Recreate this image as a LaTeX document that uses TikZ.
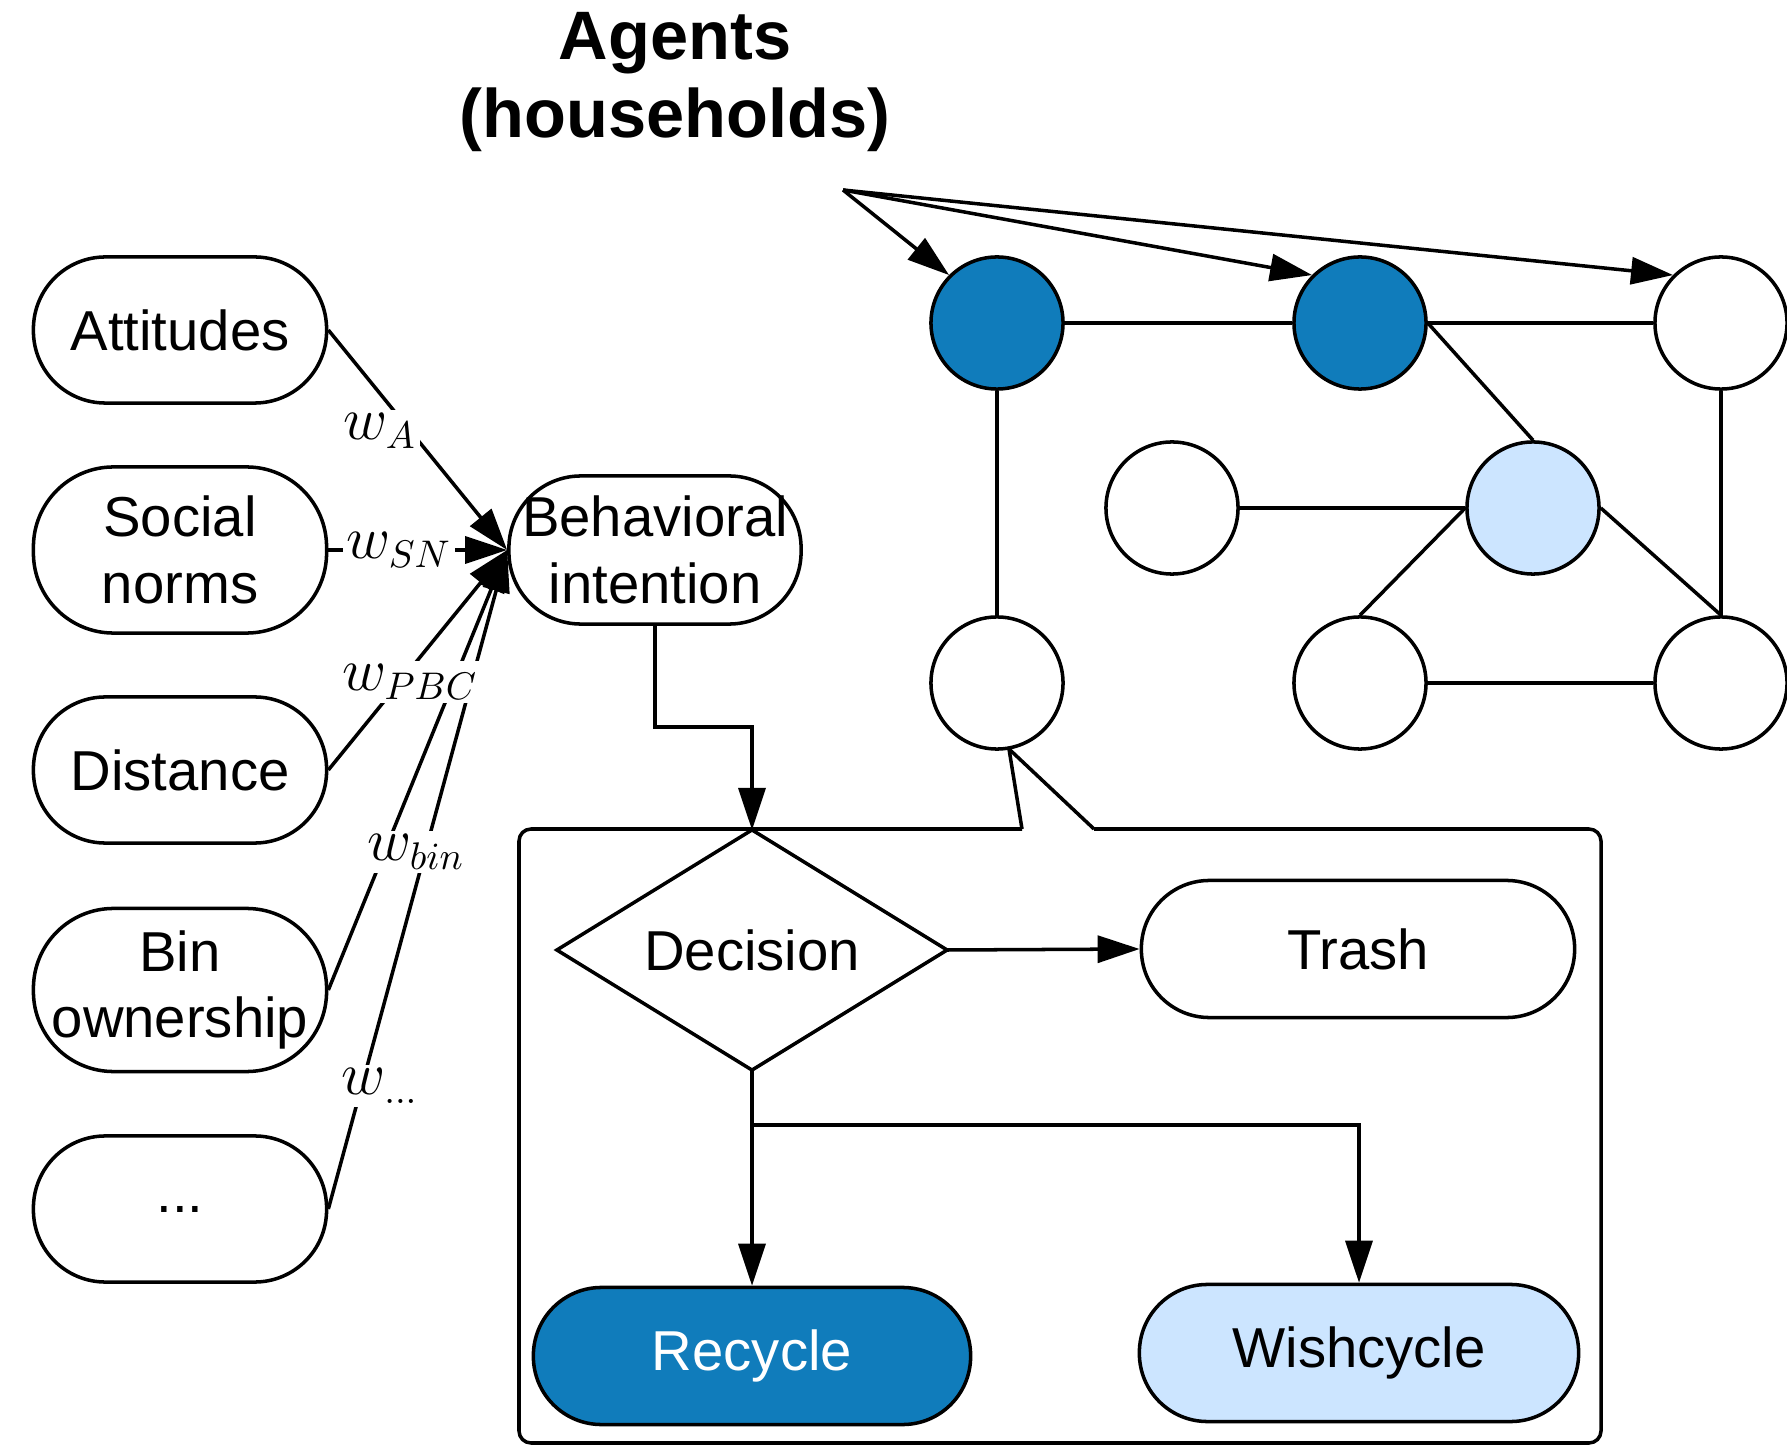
\documentclass[tikz,border=0pt]{standalone}
\usepackage{fontspec}
\setmainfont{Liberation Sans}
\usetikzlibrary{shapes.geometric,arrows.meta}
\definecolor{darkblue}{RGB}{16,124,187}
\definecolor{lightblue}{RGB}{204,229,255}
\tikzset{
  pill/.style={draw, line width=1pt, rounded corners=0.72cm, minimum width=2.93cm,
    minimum height=1.46cm, align=center, inner sep=1pt, font=\fontsize{16}{19}\selectfont},
  agent/.style={draw, circle, line width=1pt, minimum size=1.32cm, inner sep=0pt},
  wlabel/.style={fill=white, inner sep=1pt, font=\fontsize{16}{19}\selectfont},
  arr/.style={line width=1pt, -{Triangle[length=0.42cm,width=0.27cm]}},
  link/.style={line width=1pt}
}
\begin{document}
\begin{tikzpicture}[x=0.01cm, y=-0.01cm]
        \useasboundingbox (0,0) rectangle (1787,1446);
        \node[font=\fontsize{19.5}{22}\selectfont\bfseries, align=center] (title) at (675,82) {Agents\\(households)};
        \node[pill] (att) at (180,330) {Attitudes};
        \node[pill, minimum height=1.66cm, rounded corners=0.8cm] (sn) at (180,550) {Social\\norms};
        \node[pill] (dist) at (180,770) {Distance};
        \node[pill, minimum height=1.63cm, rounded corners=0.8cm] (bin) at (180,990) {Bin\\ownership};
        \node[pill] (etc) at (180,1209) {...};
        \node[pill, minimum width=2.92cm, minimum height=1.48cm] (bi) at (655,550) {Behavioral\\intention};
        \draw[arr] (att.east) -- (bi.west);
        \draw[arr] (sn.east) -- (bi.west);
        \draw[arr] (dist.east) -- (bi.west);
        \draw[arr] (bin.east) -- (bi.west);
        \draw[arr] (etc.east) -- (bi.west);
        \node[wlabel] (wa) at (380,431) {$w_{A}$};
        \node[wlabel] (wsn) at (399,550) {$w_{SN}$};
        \node[wlabel] (wpbc) at (410,682) {$w_{PBC}$};
        \node[wlabel] (wbin) at (416,852) {$w_{bin}$};
        \node[wlabel] (wetc) at (380,1086) {$w_{\ldots}$};
        \node[agent, fill=darkblue] (hh1) at (997,323) {};
        \node[agent, fill=darkblue] (hh2) at (1360,323) {};
        \node[agent] (hh3) at (1721,323) {};
        \node[agent] (hh4) at (1172,508) {};
        \node[agent, fill=lightblue] (hh5) at (1533,508) {};
        \node[agent] (hh6) at (997,683) {};
        \node[agent] (hh7) at (1360,683) {};
        \node[agent] (hh8) at (1721,683) {};
        \draw[link] (hh1) -- (hh2) -- (hh3);
        \draw[link] (hh1) -- (hh6);
        \draw[link] (hh3) -- (hh8);
        \draw[link] (hh2.east) -- (hh5.north);
        \draw[link] (hh4) -- (hh5);
        \draw[link] (hh5.west) -- (hh7.north);
        \draw[link] (hh5.east) -- (hh8.north);
        \draw[link] (hh7) -- (hh8);
        \coordinate (src) at (843,190);
        \draw[arr] (src) -- (hh1.north west);
        \draw[arr] (src) -- (hh2.north west);
        \draw[arr] (src) -- (hh3.north west);
        \draw[link, rounded corners=0.12cm] (1022,829) -- (519,829) -- (519,1443) -- (1601,1443) -- (1601,829) -- (1094,829);
        \draw[link, line join=round] (1022,829) -- (1009,749) -- (1094,829);
        \node[draw, diamond, aspect=1.64, line width=1pt, minimum width=3.9cm, minimum height=2.4cm, inner sep=0pt, outer sep=0pt,
          font=\fontsize{16}{19}\selectfont] (dec) at (752,950) {Decision};
        \node[pill, rounded corners=0.68cm, minimum width=4.33cm, minimum height=1.37cm] (trash) at (1358,949) {Trash};
        \node[pill, rounded corners=0.68cm, fill=darkblue, text=white, minimum width=4.37cm, minimum height=1.37cm] (rec) at (752,1356) {Recycle};
        \node[pill, rounded corners=0.68cm, fill=lightblue, minimum width=4.39cm, minimum height=1.37cm] (wish) at (1359,1353) {Wishcycle};
        \draw[arr] (bi.south) -- ++(0,101) -| (dec.north);
        \draw[arr] (dec.east) -- (trash.west);
        \draw[arr] (dec.south) -- (rec.north);
        \draw[arr] (dec.south) ++(0,55) -| (wish.north);
\end{tikzpicture}
\end{document}
